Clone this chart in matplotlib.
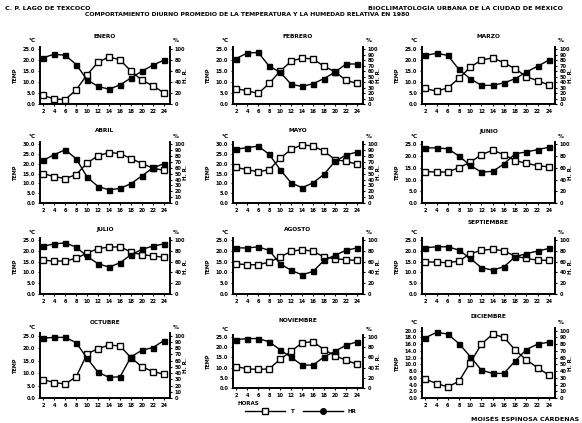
import matplotlib
matplotlib.use("Agg")
import matplotlib.pyplot as plt
from matplotlib.lines import Line2D

plt.rcParams['font.family'] = ['DejaVu Sans']
plt.rcParams['font.weight'] = 'bold'

hours = [2, 4, 6, 8, 10, 12, 14, 16, 18, 20, 22, 24]
months = ['ENERO', 'FEBRERO', 'MARZO', 'ABRIL', 'MAYO', 'JUNIO',
          'JULIO', 'AGOSTO', 'SEPTIEMBRE', 'OCTUBRE', 'NOVIEMBRE', 'DICIEMBRE']

# Temperatura media horaria (°C)
t_ene = [3.9, 2.3, 2.0, 6.5, 13.4, 19.1, 21.5, 20.1, 15.0, 10.8, 8.3, 5.1]
t_feb = [7.0, 6.0, 4.8, 9.4, 15.0, 19.5, 21.0, 20.5, 17.2, 14.7, 10.8, 9.4]
t_mar = [7.1, 5.8, 7.4, 11.7, 16.8, 20.1, 21.0, 18.8, 16.1, 12.5, 10.6, 8.7]
t_abr = [15.0, 13.5, 12.5, 14.5, 20.5, 24.2, 25.8, 25.3, 22.7, 20.2, 17.8, 16.7]
t_may = [18.2, 17.0, 16.0, 17.0, 22.9, 27.4, 29.8, 29.1, 26.5, 22.2, 21.3, 19.9]
t_jun = [13.4, 13.2, 13.2, 15.1, 17.4, 20.6, 22.5, 20.6, 18.1, 16.9, 15.9, 15.4]
t_jul = [15.7, 15.3, 15.3, 16.6, 19.0, 21.1, 21.8, 21.9, 19.5, 18.2, 17.7, 17.0]
t_ago = [14.0, 13.6, 13.6, 14.8, 17.2, 19.8, 20.6, 19.8, 17.2, 16.4, 15.9, 15.6]
t_sep = [14.9, 14.8, 14.5, 15.3, 18.7, 20.3, 20.8, 20.0, 17.6, 16.5, 15.7, 15.6]
t_oct = [7.3, 6.2, 5.6, 8.5, 17.7, 19.7, 21.2, 20.8, 16.1, 12.4, 10.6, 9.5]
t_nov = [10.5, 9.4, 9.1, 9.4, 14.1, 18.0, 22.2, 22.7, 18.8, 15.9, 13.6, 11.7]
t_dic = [5.6, 4.3, 3.3, 5.0, 10.5, 16.0, 19.0, 18.0, 14.3, 11.3, 9.0, 6.8]

# Humedad relativa media horaria (%)
hr_ene = [84.6, 90.7, 89.0, 72.0, 44.0, 32.0, 27.0, 35.0, 47.5, 60.0, 71.0, 80.0]
hr_feb = [83.0, 93.0, 94.0, 69.0, 58.0, 36.0, 32.0, 37.0, 46.5, 58.0, 73.0, 73.0]
hr_mar = [88.6, 92.6, 88.6, 63.0, 46.0, 34.0, 34.0, 38.6, 46.0, 58.5, 68.8, 80.0]
hr_abr = [72.7, 82.5, 90.7, 75.4, 44.0, 28.0, 22.4, 25.0, 33.0, 46.4, 60.0, 67.0]
hr_may = [91.7, 94.4, 97.0, 83.0, 56.7, 34.4, 26.0, 34.4, 49.0, 71.0, 81.7, 87.0]
hr_jun = [94.0, 94.0, 92.5, 80.0, 64.0, 52.6, 54.0, 66.5, 84.0, 87.0, 91.0, 95.0]
hr_jul = [89.0, 93.0, 95.0, 87.0, 70.0, 56.0, 50.0, 58.0, 73.0, 83.0, 89.0, 93.0]
hr_ago = [85.6, 85.6, 87.5, 81.0, 56.0, 44.0, 35.6, 42.0, 62.5, 72.0, 81.0, 85.6]
hr_sep = [85.8, 87.7, 87.7, 81.5, 66.0, 48.8, 44.4, 50.6, 69.0, 75.0, 79.6, 84.6]
hr_oct = [95.8, 97.0, 97.0, 88.5, 63.5, 41.0, 33.0, 34.0, 66.0, 76.5, 80.7, 92.0]
hr_nov = [95.0, 97.0, 97.0, 90.6, 75.0, 60.0, 45.0, 45.0, 61.0, 72.0, 84.0, 90.6]
hr_dic = [89.4, 97.6, 95.0, 80.8, 61.5, 41.3, 36.5, 36.5, 55.0, 72.0, 80.0, 83.0]

temps = [t_ene, t_feb, t_mar, t_abr, t_may, t_jun,
         t_jul, t_ago, t_sep, t_oct, t_nov, t_dic]
hrs = [hr_ene, hr_feb, hr_mar, hr_abr, hr_may, hr_jun,
       hr_jul, hr_ago, hr_sep, hr_oct, hr_nov, hr_dic]

# Escalas de cada panel: (máximo °C, paso °C, paso %)
scales = [(25, 5, 20), (25, 5, 10), (25, 5, 10),
          (30, 5, 10), (30, 5, 10), (25, 5, 20),
          (25, 5, 20), (25, 5, 20), (25, 5, 20),
          (25, 5, 10), (25, 5, 20), (20, 2, 10)]

W, H = 582, 423
fig = plt.figure(figsize=(W / 100, H / 100), dpi=100)
fig.patch.set_facecolor('white')

cols = [(40, 170), (233, 363), (422, 555)]
rows = [(47, 104), (142, 203), (238, 294), (333, 398)]
title_y = [37, 131, 229, 321]
box = {10: (335, 388), 11: (328, 398)}

fs = 3.6
for i in range(12):
    r, c = divmod(i, 3)
    l, rr = cols[c]
    t, b = box.get(i, rows[r])
    ax = fig.add_axes([l / W, 1 - b / H, (rr - l) / W, (b - t) / H])
    tmax, tstep, hstep = scales[i]
    ax.plot(hours, temps[i], '-', color='black', lw=1.0, marker='s', ms=4.2,
            mfc='white', mec='black', mew=1.0, zorder=3)
    ax.set_xlim(1.4, 25.1)
    ax.set_ylim(0, tmax * 1.04)
    ax.set_yticks(range(0, tmax + 1, tstep))
    ax.set_yticklabels([f'{v:.1f}' for v in range(0, tmax + 1, tstep)],
                       fontsize=fs, fontweight='bold')
    ax.set_xticks(hours)
    ax.set_xticklabels([str(h) for h in hours], fontsize=fs, fontweight='bold')
    ax.tick_params(axis='both', length=1.5, width=0.8, pad=2)
    for s in ['left', 'bottom']:
        ax.spines[s].set_linewidth(1.4)
    ax.spines['top'].set_visible(False)
    ax.spines['right'].set_visible(False)

    ax2 = ax.twinx()
    ax2.plot(hours, hrs[i], '-', color='black', lw=1.0, marker='s', ms=3.6,
             mfc='black', mec='black', zorder=4)
    ax2.set_ylim(0, 104)
    ax2.set_yticks(range(0, 101, hstep))
    ax2.set_yticklabels([str(v) for v in range(0, 101, hstep)],
                        fontsize=fs, fontweight='bold')
    ax2.tick_params(axis='y', length=1.5, width=0.8, pad=2)
    ax2.spines['right'].set_linewidth(1.4)
    ax2.spines['top'].set_visible(False)
    ax2.spines['left'].set_visible(False)
    ax2.spines['bottom'].set_visible(False)

    ty = title_y[r] if i not in (9, 10, 11) else [322, 320, 317][i - 9]
    if i == 8:
        ty = 222
    fig.text((l + rr) / 2 / W, 1 - ty / H, months[i], ha='center', va='center',
             fontsize=4.2, fontweight='bold')
    fig.text((l - 8) / W, 1 - (t - 6) / H, '°C', ha='center', va='center',
             fontsize=4.2, fontweight='bold')
    fig.text((rr + 6) / W, 1 - (t - 6) / H, '%', ha='center', va='center',
             fontsize=4.2, fontweight='bold')
    fig.text((l - 25) / W, 1 - (t + b) / 2 / H, 'TEMP', rotation=90,
             ha='center', va='center', fontsize=3.6, fontweight='bold')
    fig.text((rr + 16) / W, 1 - (t + b) / 2 / H, 'H. R.', rotation=90,
             ha='center', va='center', fontsize=4.0, fontweight='bold')

# Encabezados
fig.text(5 / W, 1 - 8 / H, 'C. P. LAGO DE TEXCOCO', ha='left', va='center',
         fontsize=4.6, fontweight='bold')
fig.text(563 / W, 1 - 8 / H, 'BIOCLIMATOLOGÍA URBANA DE LA CIUDAD DE MÉXICO',
         ha='right', va='center', fontsize=4.6, fontweight='bold')
fig.text(247 / W, 1 - 15 / H,
         'COMPORTAMIENTO DIURNO PROMEDIO DE LA TEMPERATURA Y LA HUMEDAD RELATIVA EN 1980',
         ha='center', va='center', fontsize=4.4, fontweight='bold')

# Leyenda
fig.text(238 / W, 1 - 403 / H, 'HORAS', ha='left', va='center',
         fontsize=4.0, fontweight='bold')
fig.add_artist(Line2D([245 / W, 285 / W], [1 - 411 / H, 1 - 411 / H],
                      color='black', lw=1.0))
fig.add_artist(Line2D([265 / W], [1 - 411 / H], marker='s', ms=4.2,
                      mfc='white', mec='black', mew=1.0, color='black'))
fig.text(291 / W, 1 - 411 / H, 'T', ha='left', va='center',
         fontsize=4.0, fontweight='bold')
fig.add_artist(Line2D([303 / W, 343 / W], [1 - 411 / H, 1 - 411 / H],
                      color='black', lw=1.0))
fig.add_artist(Line2D([323 / W], [1 - 411 / H], marker='o', ms=4.0,
                      mfc='black', mec='black', color='black'))
fig.text(347 / W, 1 - 411 / H, 'HR', ha='left', va='center',
         fontsize=4.0, fontweight='bold')
fig.text(579 / W, 1 - 419 / H, 'MOISÉS ESPINOSA CÁRDENAS', ha='right',
         va='center', fontsize=4.6, fontweight='bold')

fig.savefig('out.png', dpi=100, facecolor='white')
